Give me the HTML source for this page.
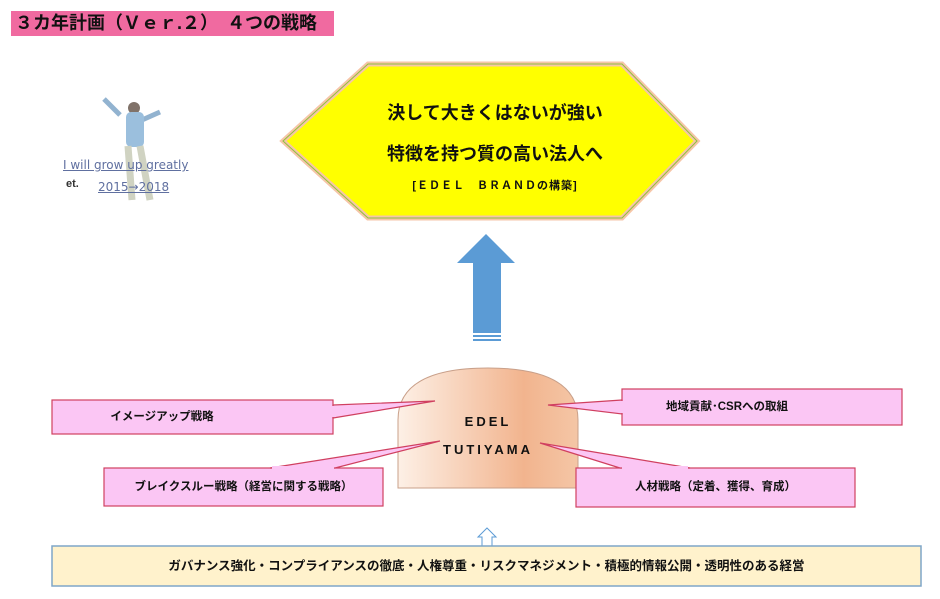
<!DOCTYPE html>
<html><head><meta charset="utf-8"><style>
body{margin:0;width:940px;height:599px;background:#fff;position:relative;overflow:hidden;font-family:"Liberation Sans","Noto Sans CJK JP",sans-serif;}
.abs{position:absolute;}
.t{font-weight:bold;color:#111;white-space:nowrap;}
</style></head><body>
<div class="abs t" style="left:11px;top:11px;width:319px;height:25px;background:#f06aa0;font-size:18px;line-height:25px;padding-left:4px;">３カ年計画（Ｖｅｒ.２）　４つの戦略</div>
<svg class="abs" style="left:0;top:0" width="940" height="599">
<defs>
<linearGradient id="dome" x1="0" x2="1" y1="0" y2="0"><stop offset="0" stop-color="#fdf0e6"/><stop offset="0.7" stop-color="#f2b48e"/><stop offset="1" stop-color="#f4c6a6"/></linearGradient>
</defs>
<g opacity="0.85">
<path d="M104 99 L120 115" stroke="#7fa6c8" stroke-width="5"/>
<path d="M160 112 L142 120" stroke="#7fa6c8" stroke-width="5"/>
<circle cx="134" cy="108" r="6" fill="#6a5a50"/>
<rect x="126" y="112" width="18" height="35" rx="5" fill="#8ab4d8"/>
<path d="M128 146 L132 200 M140 146 L150 200" stroke="#c8ccb8" stroke-width="7"/>
</g>
<polygon points="283,141 368,64 622,64 697,141 622,218 368,218" fill="#ffff00" stroke="#f6c6a8" stroke-width="5"/>
<polygon points="283,141 368,64 622,64 697,141 622,218 368,218" fill="none" stroke="#8fbf3f" stroke-width="1"/>
<polygon points="486,234 515,263 501,263 501,333 473,333 473,263 457,263" fill="#5b9bd5"/>
<rect x="473" y="335" width="28" height="2" fill="#5b9bd5"/>
<rect x="473" y="339" width="28" height="2" fill="#5b9bd5"/>
<path d="M398 488 L398 420 Q398 368 488 368 Q578 368 578 420 L578 488 Z" fill="url(#dome)" stroke="#c9a08a" stroke-width="1"/>
<g fill="#fbc6f4" stroke="#d04060" stroke-width="1.2">
<rect x="52" y="400" width="281" height="34"/>
<polygon points="333,405 435,401 333,418" />
<rect x="622" y="389" width="280" height="36"/>
<polygon points="622,400 548,405 622,414"/>
<rect x="104" y="468" width="279" height="38"/>
<polygon points="270,468 440,441 335,468"/>
<rect x="576" y="468" width="279" height="39"/>
<polygon points="620,468 540,443 690,468"/>
</g>
<g fill="#fbc6f4"><rect x="330" y="406" width="6" height="11"/><rect x="619" y="401" width="6" height="12"/><rect x="272" y="466" width="62" height="4"/><rect x="622" y="466" width="66" height="4"/></g>
<polygon points="487,528 496,537 492,537 492,546 482,546 482,537 478,537" fill="#fff" stroke="#5b9bd5" stroke-width="1"/>
<rect x="52" y="546" width="869" height="40" fill="#fff2cc" stroke="#7fa6c8" stroke-width="1.5"/>
</svg>
<div class="abs" style="left:63px;top:158px;font-size:12px;color:#6070a0;text-decoration:underline;font-family:'DejaVu Sans',sans-serif;">I will grow up greatly</div>
<div class="abs" style="left:66px;top:178px;font-size:11px;color:#333;font-weight:bold">et.</div>
<div class="abs" style="left:98px;top:180px;font-size:12px;color:#6070a0;text-decoration:underline;font-family:'DejaVu Sans',sans-serif;">2015→2018</div>
<div class="abs t" style="left:368px;top:99px;width:254px;text-align:center;font-size:18px;">決して大きくはないが強い</div>
<div class="abs t" style="left:368px;top:140px;width:254px;text-align:center;font-size:18px;">特徴を持つ質の高い法人へ</div>
<div class="abs t" style="left:368px;top:177px;width:254px;text-align:center;font-size:11px;letter-spacing:1px;">[ＥＤＥＬ　ＢＲＡＮＤの構築]</div>
<div class="abs t" style="left:398px;top:408px;width:180px;text-align:center;font-size:13px;letter-spacing:3px;line-height:28px;">EDEL<br>TUTIYAMA</div>
<div class="abs t" style="left:52px;top:400px;width:220px;text-align:center;font-size:11.5px;line-height:34px;">イメージアップ戦略</div>
<div class="abs t" style="left:622px;top:389px;width:210px;text-align:center;font-size:11.5px;line-height:36px;">地域貢献･CSRへの取組</div>
<div class="abs t" style="left:104px;top:468px;width:279px;text-align:center;font-size:11.5px;line-height:38px;">ブレイクスルー戦略（経営に関する戦略）</div>
<div class="abs t" style="left:576px;top:468px;width:279px;text-align:center;font-size:11.5px;line-height:39px;">人材戦略（定着、獲得、育成）</div>
<div class="abs t" style="left:52px;top:546px;width:869px;text-align:center;font-size:12.5px;line-height:40px;">ガバナンス強化・コンプライアンスの徹底・人権尊重・リスクマネジメント・積極的情報公開・透明性のある経営</div>
</body></html>
